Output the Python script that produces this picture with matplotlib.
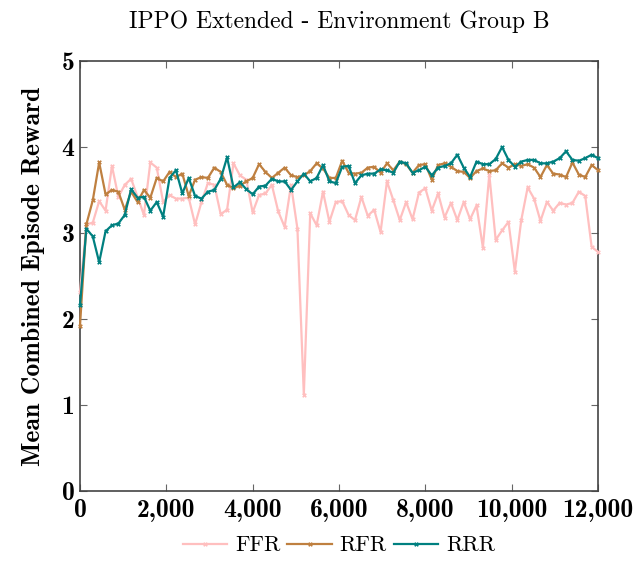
import numpy as np
import matplotlib
matplotlib.use("Agg")
import matplotlib.pyplot as plt
from matplotlib.ticker import FuncFormatter

steps = np.linspace(0, 12000, 82)

ffr = [2.31, 3.10, 3.12, 3.37, 3.26, 3.78, 3.42, 3.56, 3.63, 3.42,
       3.21, 3.82, 3.76, 3.36, 3.44, 3.40, 3.40, 3.41, 3.10, 3.36,
       3.58, 3.56, 3.22, 3.27, 3.81, 3.67, 3.62, 3.24, 3.44, 3.46,
       3.56, 3.25, 3.07, 3.56, 3.05, 1.12, 3.23, 3.09, 3.48, 3.13,
       3.36, 3.37, 3.21, 3.15, 3.42, 3.20, 3.27, 3.01, 3.60, 3.38,
       3.15, 3.36, 3.16, 3.47, 3.52, 3.26, 3.46, 3.18, 3.35, 3.15,
       3.36, 3.16, 3.32, 2.83, 3.68, 2.92, 3.03, 3.13, 2.55, 3.15,
       3.53, 3.40, 3.14, 3.36, 3.26, 3.35, 3.33, 3.35, 3.48, 3.43,
       2.84, 2.78]

rfr = [1.92, 3.10, 3.38, 3.82, 3.45, 3.50, 3.48, 3.27, 3.48, 3.36,
       3.50, 3.41, 3.64, 3.60, 3.71, 3.65, 3.69, 3.43, 3.62, 3.65,
       3.64, 3.76, 3.71, 3.56, 3.52, 3.55, 3.60, 3.64, 3.80, 3.71,
       3.64, 3.70, 3.76, 3.67, 3.65, 3.67, 3.72, 3.81, 3.75, 3.64,
       3.64, 3.84, 3.70, 3.69, 3.70, 3.76, 3.77, 3.70, 3.81, 3.73,
       3.83, 3.80, 3.70, 3.79, 3.80, 3.62, 3.79, 3.81, 3.77, 3.72,
       3.71, 3.64, 3.72, 3.75, 3.72, 3.73, 3.81, 3.76, 3.80, 3.78,
       3.80, 3.76, 3.65, 3.79, 3.69, 3.68, 3.65, 3.82, 3.68, 3.65,
       3.79, 3.73]

rrr = [2.16, 3.05, 2.96, 2.66, 3.02, 3.09, 3.11, 3.21, 3.51, 3.41,
       3.42, 3.26, 3.36, 3.19, 3.64, 3.73, 3.46, 3.64, 3.43, 3.40,
       3.48, 3.50, 3.63, 3.88, 3.53, 3.59, 3.51, 3.45, 3.54, 3.55,
       3.63, 3.60, 3.60, 3.50, 3.60, 3.69, 3.60, 3.64, 3.79, 3.60,
       3.58, 3.77, 3.78, 3.58, 3.67, 3.69, 3.69, 3.74, 3.73, 3.70,
       3.83, 3.81, 3.70, 3.73, 3.77, 3.67, 3.76, 3.78, 3.81, 3.91,
       3.76, 3.65, 3.83, 3.80, 3.80, 3.86, 4.00, 3.85, 3.77, 3.83,
       3.85, 3.85, 3.81, 3.81, 3.83, 3.87, 3.95, 3.85, 3.84, 3.87,
       3.91, 3.87]

series_names = ["FFR", "RFR", "RRR"]
series_colors = ["#FFBFBF", "#BF8040", "#008080"]
x_ticks = [0, 2000, 4000, 6000, 8000, 10000, 12000]
y_ticks = [0, 1, 2, 3, 4, 5]

plt.rcParams["axes.formatter.use_mathtext"] = True

fig = plt.figure(figsize=(6.44, 5.69), dpi=100)
ax = fig.add_axes([0.1242, 0.1371, 0.8044, 0.7557])

for ys, name, col in zip([ffr, rfr, rrr], series_names, series_colors):
    ax.plot(steps, ys, color=col, lw=1.6, marker="X", markersize=3.4,
            markeredgewidth=0, label=name, clip_on=False, zorder=3)

ax.set_xlim(0, 12000)
ax.set_ylim(0, 5)
ax.set_xticks(x_ticks)
ax.set_yticks(y_ticks)
ax.xaxis.set_major_formatter(FuncFormatter(lambda v, p: f"{int(v):,}"))
ax.yaxis.set_major_formatter(FuncFormatter(lambda v, p: f"{int(v)}"))

ax.tick_params(direction="in", length=5, width=0.8, color="#666666",
               top=True, right=True, labelsize=18.5, pad=4)
ax.tick_params(axis="x", pad=6)
for lab in ax.get_xticklabels() + ax.get_yticklabels():
    lab.set_fontfamily("cmb10")

for sp in ax.spines.values():
    sp.set_color("#444444")
    sp.set_linewidth(1.2)

ax.set_ylabel("Mean Combined Episode Reward", fontfamily="cmb10",
              fontsize=18.5, labelpad=12)
ax.set_title("IPPO Extended - Environment Group B", fontfamily="cmr10",
             fontsize=17, pad=24)

leg = ax.legend(loc="upper center", bbox_to_anchor=(0.5, -0.068), ncol=3,
                frameon=False, prop={"family": "cmr10", "size": 16},
                handlelength=2.0, columnspacing=0.3, handletextpad=0.36,
                borderpad=0.2)

fig.savefig("out.png", dpi=100)
